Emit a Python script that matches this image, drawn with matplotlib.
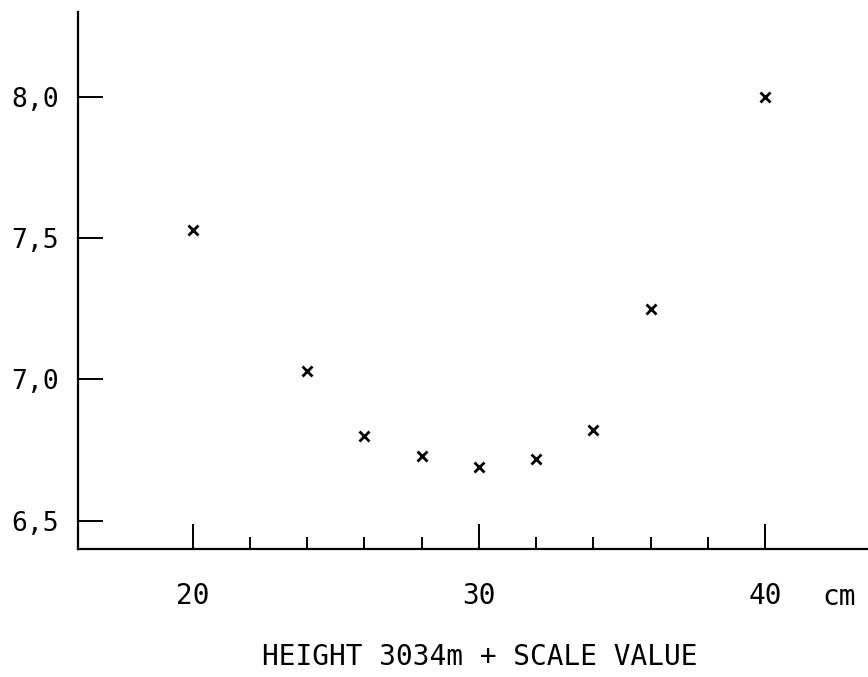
import matplotlib
matplotlib.use("Agg")
import matplotlib.pyplot as plt
from matplotlib.ticker import FixedLocator

# Data
scale_cm = [20, 24, 26, 28, 30, 32, 34, 36, 40]
values = [7.53, 7.03, 6.80, 6.73, 6.69, 6.72, 6.82, 7.25, 8.00]
x_major = [20, 30, 40]
x_major_labels = ["20", "30", "40"]
x_minor = [22, 24, 26, 28, 32, 34, 36, 38]
y_major = [6.5, 7.0, 7.5, 8.0]
y_major_labels = ["6,5", "7,0", "7,5", "8,0"]
x_unit = "cm"
x_title = "HEIGHT 3034m + SCALE VALUE"

font = "DejaVu Sans Mono"

fig = plt.figure(figsize=(8.68, 6.77), dpi=100)
ax = fig.add_axes([78/868, 1 - 549/677, 1 - 78/868 + 0.01, (549 - 12)/677])

ax.plot(scale_cm, values, linestyle="none", marker="x", markersize=7,
        markeredgewidth=2.0, color="black")

ax.set_xlim(16, 43.9)
ax.set_ylim(6.40, 8.30)

for s in ["top", "right"]:
    ax.spines[s].set_visible(False)
for s in ["left", "bottom"]:
    ax.spines[s].set_linewidth(1.6)
    ax.spines[s].set_color("black")

ax.xaxis.set_major_locator(FixedLocator(x_major))
ax.xaxis.set_minor_locator(FixedLocator(x_minor))
ax.set_xticklabels(x_major_labels, fontfamily=font, fontsize=20)
ax.yaxis.set_major_locator(FixedLocator(y_major))
ax.set_yticklabels(y_major_labels, fontfamily=font, fontsize=19)

ax.tick_params(axis="x", which="major", direction="in", length=18, width=1.4,
               pad=24)
ax.tick_params(axis="x", which="minor", direction="in", length=9, width=1.4)
ax.tick_params(axis="y", which="major", direction="in", length=18, width=1.4,
               pad=14)

# unit label, baseline aligned with the x tick labels
ax.text(42.6, 6.40 - 56/283.3, x_unit, fontfamily=font,
        fontsize=20, ha="center", va="baseline")

fig.text(0.5522, 1 - 657/677, x_title, fontfamily=font, fontsize=20,
         ha="center", va="center")

fig.savefig("out.png", dpi=100)
